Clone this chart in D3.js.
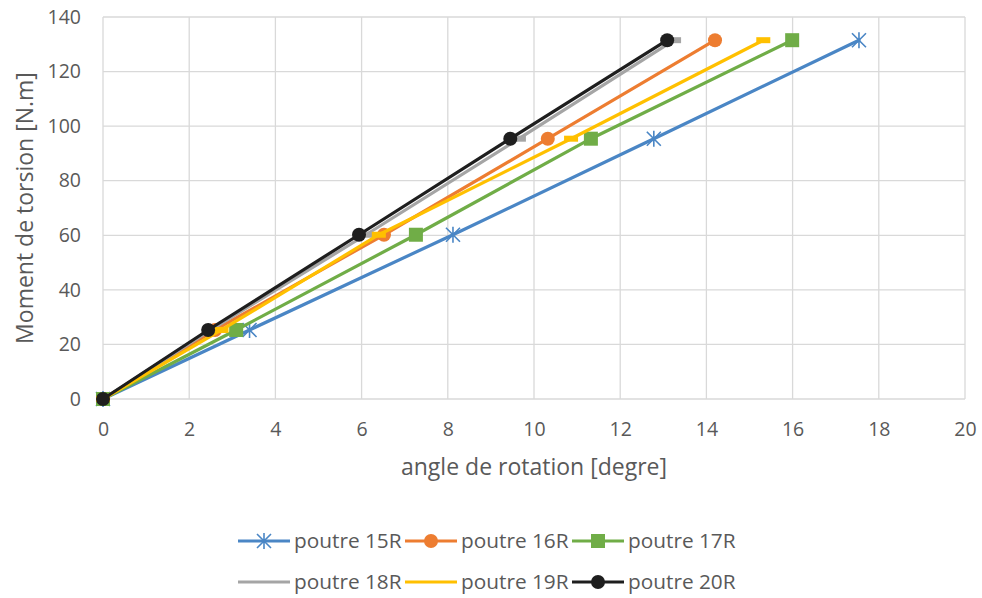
<!DOCTYPE html>
<html>
<head>
<meta charset="utf-8">
<script src="https://cdn.jsdelivr.net/npm/d3@7"></script>
<style>
  body { margin: 0; background: #fff; }
  text { font-family: "Open Sans", "Noto Sans", sans-serif; fill: #595959; }
</style>
</head>
<body>
<div id="chart"></div>
<script>
// torque values (same for each beam)
var moments = [0, 25.3, 60.2, 95.4, 131.5];

// rotation angles
var angles15 = [0, 3.4, 8.12, 12.78, 17.54];
var angles16 = [0, 2.6, 6.52, 10.32, 14.2];
var angles17 = [0, 3.09, 7.26, 11.32, 15.99];
var angles18 = [0, 2.5, 6.1, 9.65, 13.25];
var angles19 = [0, 2.75, 6.4, 10.86, 15.32];
var angles20 = [0, 2.44, 5.94, 9.45, 13.09];

var seriesNames = ["poutre 15R", "poutre 16R", "poutre 17R", "poutre 18R", "poutre 19R", "poutre 20R"];
var seriesColors = ["#4a86c5", "#ed7d31", "#70ad47", "#a5a5a5", "#ffc000", "#1e1e1e"];
var seriesMarkers = ["star", "circle", "square", "dash", "dash", "circle"];

var xTicks = [0, 2, 4, 6, 8, 10, 12, 14, 16, 18, 20];
var yTicks = [0, 20, 40, 60, 80, 100, 120, 140];

var width = 982, height = 598;
var margin = { left: 103, right: 17, top: 17, bottom: 199 };

var svg = d3.select("#chart")
  .append("svg")
  .attr("width", width)
  .attr("height", height);

var x = d3.scaleLinear().domain([0, 20]).range([margin.left, width - margin.right]);
var y = d3.scaleLinear().domain([0, 140]).range([height - margin.bottom, margin.top]);

// gridlines
svg.append("g")
  .selectAll("line.v")
  .data(xTicks)
  .enter()
  .append("line")
  .attr("x1", d => x(d)).attr("x2", d => x(d))
  .attr("y1", y(0)).attr("y2", y(140))
  .style("stroke", "#d9d9d9")
  .style("stroke-width", 1.3);

svg.append("g")
  .selectAll("line.h")
  .data(yTicks)
  .enter()
  .append("line")
  .attr("x1", x(0)).attr("x2", x(20))
  .attr("y1", d => y(d)).attr("y2", d => y(d))
  .style("stroke", "#d9d9d9")
  .style("stroke-width", 1.3);

// axes (labels only, Excel style)
var xAxis = svg.append("g")
  .attr("transform", "translate(0," + y(0) + ")")
  .call(d3.axisBottom(x).tickValues(xTicks).tickSize(0).tickPadding(23));
xAxis.select(".domain").remove();
xAxis.selectAll("text").style("font-size", "19.5px").style("fill", "#595959");

var yAxis = svg.append("g")
  .attr("transform", "translate(" + x(0) + ",0)")
  .call(d3.axisLeft(y).tickValues(yTicks).tickSize(0).tickPadding(22));
yAxis.select(".domain").remove();
yAxis.selectAll("text").style("font-size", "19.5px").style("fill", "#595959");

// axis titles
svg.append("text")
  .attr("x", (x(0) + x(20)) / 2)
  .attr("y", 475)
  .attr("text-anchor", "middle")
  .style("font-size", "23px")
  .text("angle de rotation [degre]");

svg.append("text")
  .attr("transform", "translate(33," + (y(70)) + ") rotate(-90)")
  .attr("text-anchor", "middle")
  .style("font-size", "23px")
  .text("Moment de torsion [N.m]");

var allAngles = [angles15, angles16, angles17, angles18, angles19, angles20];

function drawMarker(g, type, color, cx, cy) {
  if (type === "circle") {
    g.append("circle").attr("cx", cx).attr("cy", cy).attr("r", 7).style("fill", color);
  } else if (type === "square") {
    g.append("rect").attr("x", cx - 7).attr("y", cy - 7).attr("width", 14).attr("height", 14).style("fill", color);
  } else if (type === "star") {
    var s = 7;
    g.append("path")
      .attr("d", "M" + (cx - s) + "," + (cy - s) + "L" + (cx + s) + "," + (cy + s) +
        "M" + (cx - s) + "," + (cy + s) + "L" + (cx + s) + "," + (cy - s) +
        "M" + cx + "," + (cy - s - 1) + "L" + cx + "," + (cy + s + 1))
      .style("stroke", color).style("stroke-width", 1.6).style("fill", "none");
  } else if (type === "dash") {
    g.append("rect").attr("x", cx - 7).attr("y", cy - 3).attr("width", 14).attr("height", 6).style("fill", color);
  }
}

var line = d3.line().x(d => x(d[0])).y(d => y(d[1]));

allAngles.forEach(function (angles, i) {
  var pts = angles.map((a, k) => [a, moments[k]]);
  var g = svg.append("g");
  g.append("path")
    .datum(pts)
    .attr("d", line)
    .style("fill", "none")
    .style("stroke", seriesColors[i])
    .style("stroke-width", 3.2)
    .style("stroke-linecap", "round");
  pts.forEach(function (p) {
    drawMarker(g, seriesMarkers[i], seriesColors[i], x(p[0]), y(p[1]));
  });
});

// legend
var legendRows = [[0, 1, 2], [3, 4, 5]];
var legendY = [541, 582];
legendRows.forEach(function (row, r) {
  row.forEach(function (idx, c) {
    var lx = 238 + c * 167;
    var ly = legendY[r];
    var g = svg.append("g");
    g.append("line")
      .attr("x1", lx).attr("x2", lx + 52)
      .attr("y1", ly).attr("y2", ly)
      .style("stroke", seriesColors[idx])
      .style("stroke-width", 3.2);
    if (seriesMarkers[idx] !== "dash") {
      drawMarker(g, seriesMarkers[idx], seriesColors[idx], lx + 26, ly);
    }
    g.append("text")
      .attr("x", lx + 56)
      .attr("y", ly + 7)
      .style("font-size", "20.8px")
      .text(seriesNames[idx]);
  });
});
</script>
</body>
</html>
